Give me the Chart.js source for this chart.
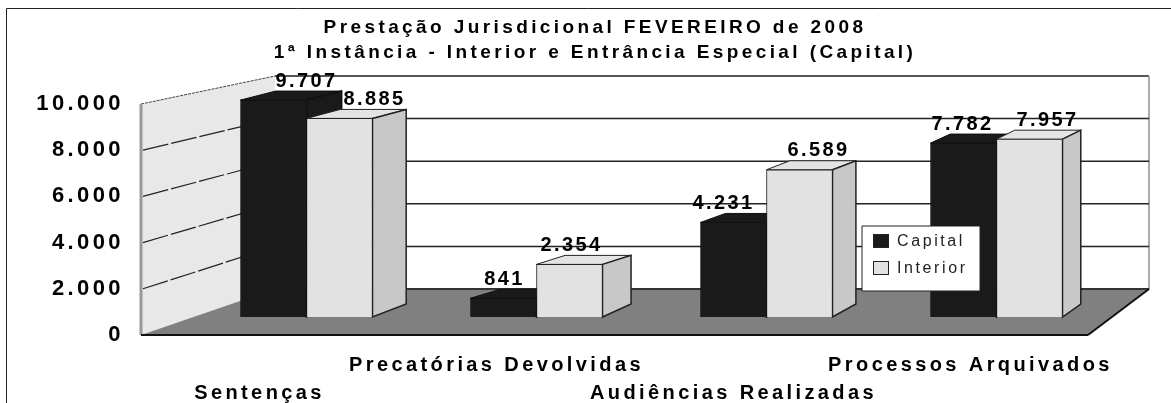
<!DOCTYPE html>
<html>
<head>
<meta charset="utf-8">
<title>Prestação Jurisdicional</title>
<script src="https://cdn.jsdelivr.net/npm/chart.js@4/dist/chart.umd.min.js"></script>
<style>
  html, body { margin: 0; padding: 0; background: #fff; }
  #wrap { width: 1171px; height: 403px; }
</style>
</head>
<body>
<div id="wrap"><canvas id="chart" width="1171" height="403"></canvas></div>
<script>
'use strict';

const categories = ['Sentenças', 'Precatórias Devolvidas', 'Audiências Realizadas', 'Processos Arquivados'];
const capital = [9707, 841, 4231, 7782];
const interior = [8885, 2354, 6589, 7957];
const yTicks = [0, 2000, 4000, 6000, 8000, 10000];
const titleLines = ['Prestação Jurisdicional FEVEREIRO de 2008', '1ª Instância - Interior e Entrância Especial (Capital)'];

// the picture is a fake 3D box: front plane, back wall and the plane the bars stand on
const box = { left: 141, backLeft: 275, right: 1149, frontRight: 1088, top: 76, bottom: 335 };
const capitalNudge = [33, 1, -10, -1];
const interiorNudge = [35, 2, 19, 18];
const FONT = '"Liberation Sans", Arial, sans-serif';

function fmt(v) {
    return String(v).replace(/\B(?=(\d{3})+$)/g, '.');
}

function poly(ctx, pts, fill, stroke, width) {
    ctx.beginPath();
    pts.forEach((p, i) => i ? ctx.lineTo(p[0], p[1]) : ctx.moveTo(p[0], p[1]));
    ctx.closePath();
    if (fill) { ctx.fillStyle = fill; ctx.fill(); }
    if (stroke) { ctx.strokeStyle = stroke; ctx.lineWidth = width || 1; ctx.stroke(); }
}

function line(ctx, x1, y1, x2, y2, color, width, dash) {
    ctx.beginPath();
    ctx.setLineDash(dash || []);
    ctx.moveTo(x1, y1);
    ctx.lineTo(x2, y2);
    ctx.strokeStyle = color;
    ctx.lineWidth = width;
    ctx.stroke();
    ctx.setLineDash([]);
}

const box3d = {
    id: 'box3d',
    afterLayout(chart) {
        // title is centred a bit right of the page centre in the original
        chart.titleBlock.left += 41;
    },
    beforeDraw(chart) {
        const ctx = chart.ctx;
        ctx.letterSpacing = '3.4px';
        // outer frame, cut by the bottom and right of the picture
        ctx.beginPath();
        ctx.moveTo(6.5, 403);
        ctx.lineTo(6.5, 8.5);
        ctx.lineTo(1171, 8.5);
        ctx.strokeStyle = '#222';
        ctx.lineWidth = 1;
        ctx.stroke();
    },
    beforeDatasetsDraw(chart) {
        const ctx = chart.ctx;
        const front = chart.scales.y;
        const back = chart.scales.yBack;
        const base = back.getPixelForValue(0);
        const top = back.getPixelForValue(10000);
        const b = box;

        // back wall
        poly(ctx, [[b.backLeft, top], [b.right, top], [b.right, base], [b.backLeft, base]], '#fff');
        line(ctx, b.backLeft, top, b.right, top, '#555', 2);
        line(ctx, b.right, top, b.right, base, '#aaa', 2);
        // side wall
        poly(ctx, [[b.left, front.getPixelForValue(0)], [b.left, front.getPixelForValue(10000)], [b.backLeft, top], [b.backLeft, base]], '#e8e8e8');
        line(ctx, b.left, front.getPixelForValue(10000), b.backLeft, top, '#444', 1, [3, 1]);
        line(ctx, b.left, front.getPixelForValue(0), b.left, front.getPixelForValue(10000), '#999', 3);
        // floor
        poly(ctx, [[b.left, b.bottom], [b.frontRight, b.bottom], [b.right, base], [b.backLeft, base]], '#808080');
        line(ctx, b.backLeft, base, b.right, base, '#333', 2);
        line(ctx, b.left, b.bottom, b.frontRight, b.bottom, '#111', 2);
        line(ctx, b.frontRight, b.bottom, b.right, base, '#111', 2);

        // grid lines run over the side wall and then along the back wall
        yTicks.slice(1, -1).forEach(v => {
            const yb = back.getPixelForValue(v);
            line(ctx, b.left + 2, front.getPixelForValue(v), b.backLeft, yb, '#222', 1.2, [26, 3]);
            line(ctx, b.backLeft, yb, b.right, yb, '#222', 1.5);
        });

        // depth faces of the bars, behind all the fronts
        chart.getSortedVisibleDatasetMetas().slice().sort((m, n) => m.index - n.index).forEach(meta => {
            const dark = meta.index === 0;
            meta.data.forEach(el => {
                const r = el.x + el.width / 2;
                const l = el.x - el.width / 2;
                const d = 0.29 * (134 - (r - b.left) * 73 / 947);
                const dTop = 9;
                const dBase = 13;
                const edge = dark ? '#111' : '#222';
                poly(ctx, [[l, el.y], [l + d, el.y - dTop], [r + d, el.y - dTop], [r, el.y]], dark ? '#1a1a1a' : '#e4e4e4', edge, 1);
                poly(ctx, [[r, el.y], [r + d, el.y - dTop], [r + d, el.base - dBase], [r, el.base]], dark ? '#1a1a1a' : '#c8c8c8', edge, 1.5);
            });
        });
    },
    afterDatasetsDraw(chart) {
        const ctx = chart.ctx;
        ctx.save();
        ctx.fillStyle = '#000';
        ctx.font = 'bold 20px ' + FONT;
        ctx.letterSpacing = '2.4px';
        ctx.textAlign = 'center';
        ctx.textBaseline = 'middle';
        [capitalNudge, interiorNudge].forEach((nudge, ds) => {
            chart.getDatasetMeta(ds).data.forEach((el, i) => {
                ctx.fillText(fmt(chart.data.datasets[ds].data[i].y), el.x + nudge[i], el.y - 19);
            });
        });
        ctx.restore();
    },
    afterDraw(chart) {
        // legend box over the bars
        const ctx = chart.ctx;
        ctx.save();
        poly(ctx, [[862, 226], [980, 226], [980, 291], [862, 291]], '#fff', '#222', 1);
        ctx.font = '16px ' + FONT;
        ctx.letterSpacing = '2.6px';
        ctx.textBaseline = 'middle';
        chart.data.datasets.forEach((ds, i) => {
            const y = 234 + i * 27;
            ctx.fillStyle = ds.backgroundColor;
            ctx.strokeStyle = '#222';
            ctx.lineWidth = 1;
            ctx.fillRect(873.5, y + 0.5, 15, 13);
            ctx.strokeRect(873.5, y + 0.5, 15, 13);
            ctx.fillStyle = '#222';
            ctx.fillText(ds.label, 897, y + 8);
        });
        ctx.restore();
    }
};

new Chart(document.getElementById('chart'), {
    type: 'bar',
    data: {
        datasets: [
            { label: 'Capital', data: capital.map((v, i) => ({ x: i, y: v })), backgroundColor: '#1a1a1a', borderColor: '#111', borderWidth: 1, yAxisID: 'yBars', xAxisID: 'xBars' },
            { label: 'Interior', data: interior.map((v, i) => ({ x: i, y: v })), backgroundColor: '#e2e2e2', borderColor: '#222', borderWidth: 1, yAxisID: 'yBars', xAxisID: 'xBars' }
        ]
    },
    plugins: [box3d],
    options: {
        responsive: false,
        animation: false,
        layout: { padding: { right: 22 } },
        barThickness: 66,
        plugins: {
            legend: { display: false },
            tooltip: { enabled: false },
            title: {
                display: true,
                text: titleLines,
                color: '#000',
                font: { family: FONT, weight: 'bold', size: 19, lineHeight: '25px' },
                padding: { top: 15.5, bottom: 10.5 }
            }
        },
        scales: {
            // labelled axis, on the front plane of the box
            y: {
                position: 'left',
                min: 0,
                max: 11212,
                afterBuildTicks: axis => { axis.ticks = yTicks.map(v => ({ value: v })); },
                afterFit: axis => { axis.width = 141; },
                grid: { display: false },
                border: { display: false },
                ticks: {
                    padding: 9,
                    color: '#000',
                    font: { family: FONT, weight: 'bold', size: 22 },
                    callback: v => fmt(v)
                }
            },
            // the plane the bars stand on
            yBars: { display: false, min: -805, max: 10783 },
            // back wall
            yBack: { display: false, min: -2160, max: 10000 },
            xBars: { type: 'linear', display: false, offset: false, min: -0.7196, max: 3.663, grid: { offset: false } },
            // labels are centred along the front edge of the floor
            xFront: {
                type: 'linear',
                position: 'bottom',
                min: 0,
                max: 4.2532,
                offset: false,
                afterBuildTicks: axis => { axis.ticks = categories.map((c, i) => ({ value: i + 0.5 })); },
                afterFit: axis => { axis.height = 68; },
                grid: { display: false, offset: false },
                border: { display: false },
                ticks: {
                    autoSkip: false,
                    maxRotation: 0,
                    padding: 8,
                    color: '#000',
                    font: { family: FONT, weight: 'bold', size: 20, lineHeight: '28px' },
                    callback: (v, i) => i % 2 ? [categories[i], ''] : ['', categories[i]]
                }
            }
        }
    }
});
</script>
</body>
</html>
